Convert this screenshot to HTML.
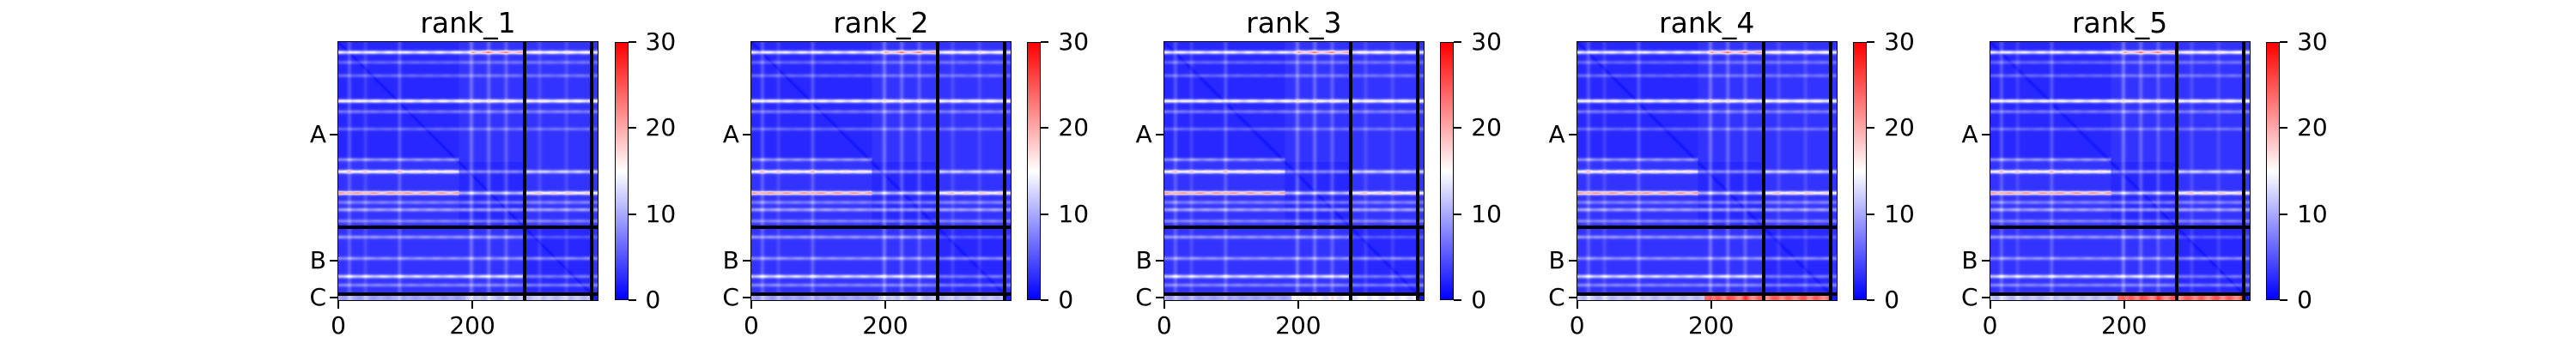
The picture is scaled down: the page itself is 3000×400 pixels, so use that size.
<!DOCTYPE html>
<html><head><meta charset="utf-8">
<style>
html,body{margin:0;padding:0;background:#fff;}
#root{position:relative;width:3000px;height:400px;overflow:hidden;font-family:"DejaVu Sans","Liberation Sans",sans-serif;}
.t{position:absolute;color:#000;white-space:nowrap;line-height:1;}
canvas{position:absolute;}
</style></head>
<body>
<div id="root"></div>
<script>
// ---- data ----
const panelTitles = ["rank_1","rank_2","rank_3","rank_4","rank_5"];
const chainNames = ["A","B","C"];
const chainLengths = [278,100,9];
const xTickValues = [0,200];
const cbarTicks = [0,10,20,30];
// row stripe segments: residue row, col start, col end, peak PAE
const stripeRow   = [15,15,15,30,50,88,104,130,176,194,194,194,226,226,226,240,251,268,292,292,324,351,351,364];
const stripeStart = [0,200,278,0,0,0,0,0,0,0,180,278,0,180,278,0,0,0,0,278,0,0,278,0];
const stripeEnd   = [200,278,387,387,387,387,387,387,180,180,278,387,180,278,387,387,387,387,278,387,387,278,387,387];
const stripeVal   = [15,21,16,6,6,16,7,6,9,17,8,12,22,12,18,7,9,7,8,5,8,13,7,7];
// vertical column stripes: residue col, extra PAE
const colStripe    = [16,40,91,198,224,250,300,340];
const colStripeVal = [2.5,1.5,2.5,3.5,3,2.5,1.5,1.5];
// C-chain row values per panel: [cols 0-190, cols 190-378]
const cRowLeft  = [9,9,9,11,11];
const cRowRight = [11,11,14,24,24];

// ---- layout ----
const root = document.getElementById('root');
const N = chainLengths.reduce((a,b)=>a+b,0);
const plotW = 302, plotH = 301, top0 = 49;
const scale = plotW / N;

function bwr(v){
  v=Math.max(0,Math.min(30,v));
  if(v<15){const t=v/15;return [255*t,255*t,255];}
  const t=(v-15)/15;return [255,255*(1-t),255*(1-t)];
}
function domainOf(r){return r<180?0:(r<278?1:(r<378?2:3));}

function value(i,j,p){
  let v=3.0;
  const di=domainOf(i), dj=domainOf(j);
  if(di===dj) v=2.3;
  const d=Math.abs(i-j);
  v-= 1.2*Math.exp(-d*d/8);
  for(let k=0;k<colStripe.length;k++){const dd=j-colStripe[k];v+=colStripeVal[k]*Math.exp(-dd*dd/10);}
  let m=0;
  for(let k=0;k<stripeRow.length;k++){
    if(j<stripeStart[k]||j>=stripeEnd[k])continue;
    const dd=i-stripeRow[k];
    const w=Math.exp(-dd*dd/7);
    const mod=0.9+0.1*Math.cos(j*0.25+k);
    m=Math.max(m,(stripeVal[k]-2)*w*mod);
  }
  if(i>=378 && j<378){
    const base=j<190?cRowLeft[p]:cRowRight[p];
    m=Math.max(m,(base-2)*(0.92+0.08*Math.cos(j*0.3)));
  }
  return v+m;
}

function addText(txt,x,y,size,align,name){
  const d=document.createElement('div');
  d.className='t';
  d.textContent=txt;
  d.style.fontSize=size+'px';
  d.style.top=y+'px';
  if(align==='center'){d.style.left=(x-200)+'px';d.style.width='400px';d.style.textAlign='center';}
  else if(align==='right'){d.style.left=(x-400)+'px';d.style.width='400px';d.style.textAlign='right';}
  else d.style.left=x+'px';
  
  
  root.appendChild(d);
}
function addRect(x,y,w,h,bg,name){
  const d=document.createElement('div');
  d.style.position='absolute';d.style.left=x+'px';d.style.top=y+'px';d.style.width=w+'px';d.style.height=h+'px';d.style.background=bg;
  
  
  root.appendChild(d);
  return d;
}

panelTitles.forEach((title,p)=>{
  const L=394+480.9*p;
  const src=document.createElement('canvas');src.width=N;src.height=N;
  const sc=src.getContext('2d');const img=sc.createImageData(N,N);
  for(let i=0;i<N;i++)for(let j=0;j<N;j++){
    const c=bwr(value(i,j,p));const o=(i*N+j)*4;
    img.data[o]=c[0];img.data[o+1]=c[1];img.data[o+2]=c[2];img.data[o+3]=255;
  }
  sc.putImageData(img,0,0);
  const cv=document.createElement('canvas');cv.width=plotW;cv.height=plotH;
  cv.style.left=L+'px';cv.style.top=top0+'px';
  
  
  const cx=cv.getContext('2d');cx.imageSmoothingEnabled=true;cx.imageSmoothingQuality='high';
  cx.drawImage(src,0,0,plotW,plotH);
  root.appendChild(cv);
  let s=0;
  for(let k=0;k<chainLengths.length-1;k++){
    s+=chainLengths[k];
    const pos=s*scale;
    addRect(L+pos-2,top0,4,plotH,'#000','chain-boundary-v');
    addRect(L,top0+pos*plotH/plotW-2,plotW,4,'#000','chain-boundary-h');
  }
  const f=addRect(L-1,top0-1,plotW,plotH,'transparent','plot-frame');
  f.style.border='1.5px solid #000';
  addText(title,L+plotW/2,10,33,'center','panel-title');
  xTickValues.forEach(v=>{
    const x=L+v*scale;
    addRect(x-1,top0+plotH,2,10,'#000','x-tick');
    addText(String(v),x,top0+plotH+16,28,'center','x-tick-label');
  });
  let c0=0;
  chainNames.forEach((nm,k)=>{
    const mid=(c0+chainLengths[k]/2)*plotH/N;c0+=chainLengths[k];
    const y=top0+mid;
    addRect(L-10,y-1,10,2,'#000','y-tick');
    addText(nm,L-14,y-14,28,'right','y-tick-label');
  });
  const cbL=L+321.5, cbW=16;
  const cb=addRect(cbL,top0,cbW,plotH,'linear-gradient(to top,rgb(0,0,255),rgb(255,255,255),rgb(255,0,0))','colorbar');
  cb.style.boxSizing='border-box';cb.style.border='1.5px solid #000';
  cbarTicks.forEach(v=>{
    const y=top0+plotH-v/30*plotH;
    addRect(cbL+cbW,y-1,9,2,'#000','colorbar-tick');
    addText(String(v),cbL+cbW+20,y-14,28,'left','colorbar-tick-label');
  });
});
</script>
</body></html>
